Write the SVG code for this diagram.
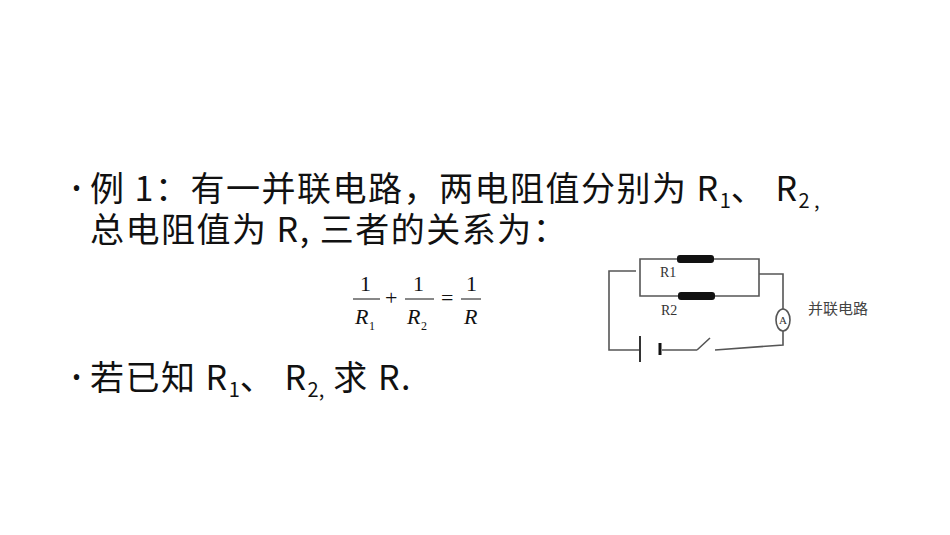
<svg xmlns="http://www.w3.org/2000/svg" width="950" height="535" viewBox="0 0 950 535">
<style>
.t{font-family:"Noto Sans CJK SC","Noto Sans",sans-serif;font-size:34px;letter-spacing:1.5px;fill:#111}
.b{font-family:"Noto Sans",sans-serif;font-size:24px;fill:#111}
.s{font-size:20px;letter-spacing:0}
.m{font-family:"Liberation Serif",serif;font-size:22px;fill:#111}
.sub{font-family:"Liberation Serif",serif;font-size:12px;fill:#111}
.w{fill:none;stroke:#555;stroke-width:1.6}
.c{font-family:"Liberation Serif",serif;font-size:14px;fill:#333}
</style>
<rect width="950" height="535" fill="#fff"/>
<g id="text">
<text class="b" x="72" y="197">•</text>
<text class="t" x="90" y="201">例 1：有一并联电路，两电阻值分别为 R<tspan class="s" dy="7">1</tspan><tspan dy="-7">、 R</tspan><tspan class="s" dy="7">2 ,</tspan></text>
<text class="t" x="90" y="242">总电阻值为 R, 三者的关系为：</text>
<text class="b" x="72" y="386">•</text>
<text class="t" x="90" y="390">若已知 R<tspan class="s" dy="7">1</tspan><tspan dy="-7">、 R</tspan><tspan class="s" dy="7">2,</tspan><tspan dy="-7"> 求 R.</tspan></text>
</g>
<g id="formula">
<text class="m" x="360" y="291">1</text>
<line x1="353" y1="299" x2="380" y2="299" stroke="#111" stroke-width="1"/>
<text class="m" x="355" y="324" font-style="italic">R</text><text class="sub" x="369" y="330">1</text>
<text class="m" x="385" y="305">+</text>
<text class="m" x="413" y="291">1</text>
<line x1="405" y1="299" x2="434" y2="299" stroke="#111" stroke-width="1"/>
<text class="m" x="407" y="324" font-style="italic">R</text><text class="sub" x="421" y="330">2</text>
<text class="m" x="441" y="305">=</text>
<text class="m" x="466" y="291">1</text>
<line x1="461" y1="299" x2="481" y2="299" stroke="#111" stroke-width="1"/>
<text class="m" x="464" y="324" font-style="italic">R</text>
</g>
<g id="circuit">
<path class="w" d="M677 259H640V296H678M715 296H759V259H714M759 274H783V309M783 331V345L715 350M697 350L710 338M697 350H662M640 350H609V271H636"/>
<rect x="677" y="255" width="37" height="8" rx="3" fill="#111"/>
<rect x="678" y="292" width="37" height="8" rx="3" fill="#111"/>
<ellipse cx="783" cy="320" rx="7" ry="11" class="w"/>
<text class="c" x="779" y="324" style="font-size:11px">A</text>
<line x1="640" y1="336" x2="640" y2="362" stroke="#333" stroke-width="2"/>
<line x1="660" y1="343" x2="660" y2="355" stroke="#111" stroke-width="3"/>
<text class="c" x="660" y="277">R1</text>
<text class="c" x="661" y="315">R2</text>
<text x="808" y="314" font-family="Noto Sans CJK SC,sans-serif" font-size="15" fill="#444">并联电路</text>
</g>
</svg>
